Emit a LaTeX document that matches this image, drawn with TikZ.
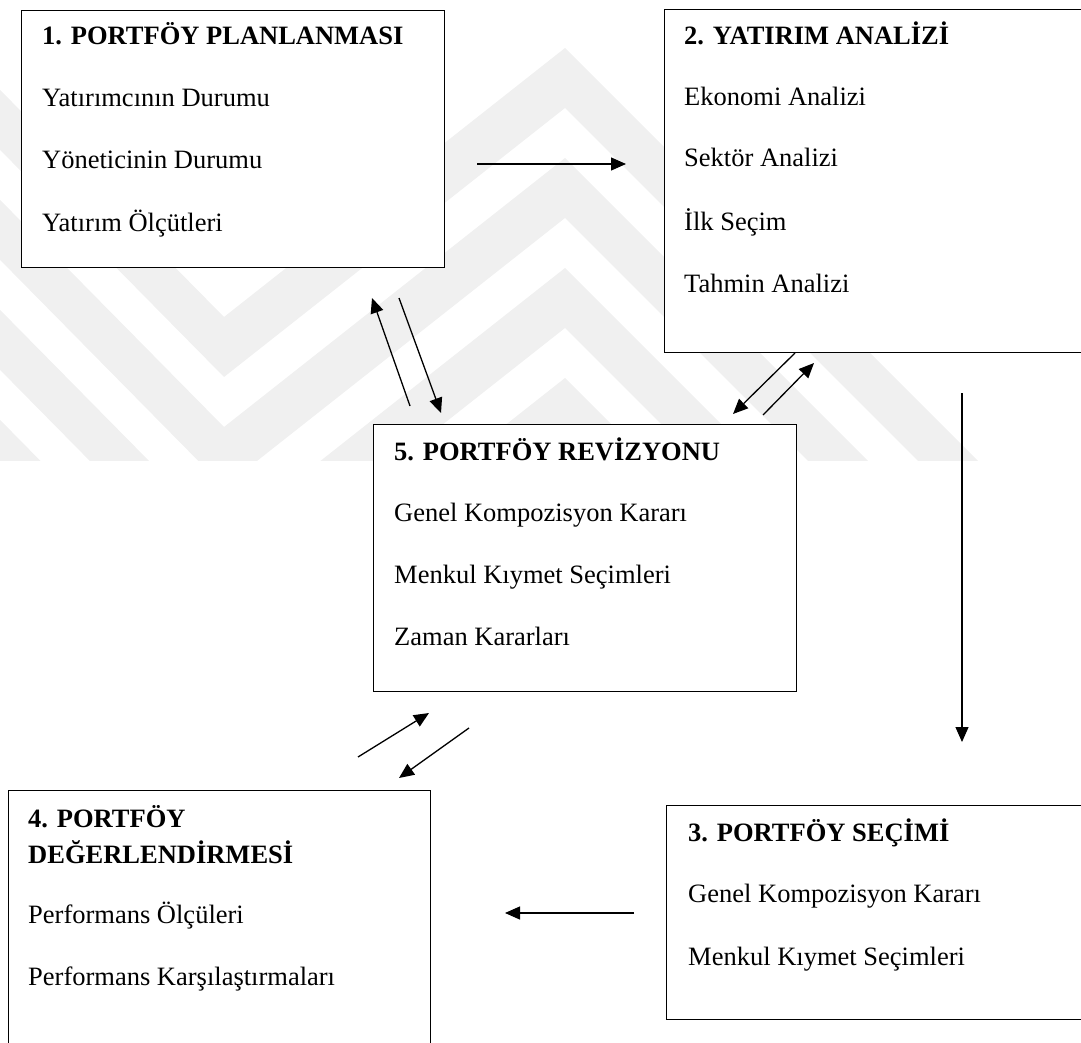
\documentclass[tikz,border=0pt]{standalone}
\usepackage{fontspec}
\setmainfont{Liberation Serif}
\usetikzlibrary{arrows.meta}
\begin{document}
\begin{tikzpicture}[x=1pt,y=-1pt,
  panel/.style={draw=black, line width=1.4pt, fill=white, inner sep=0pt, anchor=north west},
  lbl/.style={anchor=base west, inner sep=0pt, font=\fontsize{26.5}{31}\selectfont},
  head/.style={anchor=base west, inner sep=0pt, font=\fontsize{26.5}{31}\selectfont\bfseries},
  flow/.style={line width=1.3pt, -{Triangle[length=15pt,width=13pt]}},
  mark band/.style={fill=black!6, draw=none}
]
\useasboundingbox (0,0) rectangle (1081,1043);

% faint zig-zag background stripes
\begin{scope}
  \clip (0,0) rectangle (1081,460);
  \foreach \o in {0,110,220,330,440} {
    \fill[mark band]
      (-200,-113+\o) -- (224,317+\o) -- (565,48+\o) -- (1300,783+\o)
      -- (1300,843+\o) -- (565,108+\o) -- (224,377+\o) -- (-200,-53+\o) -- cycle;
  }
\end{scope}

% the five stages of the portfolio management process
\node[panel, minimum width=423pt, minimum height=257pt] (plan)   at (20.7,10)  {};
\node[panel, minimum width=426pt, minimum height=343pt] (anal)   at (664,9)    {};
\node[panel, minimum width=423pt, minimum height=267pt] (rev)    at (373,424)  {};
\node[panel, minimum width=422pt, minimum height=260pt] (eval)   at (8,790)    {};
\node[panel, minimum width=424pt, minimum height=214pt] (sel)    at (666,805)  {};

% 1. planning
\node[head] (plan-t)  at (42,45)  {1. PORTFÖY PLANLANMASI};
\node[lbl]  (plan-a)  at (42,107) {Yatırımcının Durumu};
\node[lbl]  (plan-b)  at (42,169) {Yöneticinin Durumu};
\node[lbl]  (plan-c)  at (42,231) {Yatırım Ölçütleri};

% 2. analysis
\node[head] (anal-t)  at (684,45)  {2. YATIRIM ANALİZİ};
\node[lbl]  (anal-a)  at (684,106) {Ekonomi Analizi};
\node[lbl]  (anal-b)  at (684,167) {Sektör Analizi};
\node[lbl]  (anal-c)  at (684,230) {İlk Seçim};
\node[lbl]  (anal-d)  at (684,292) {Tahmin Analizi};

% 5. revision
\node[head] (rev-t)   at (394,460) {5. PORTFÖY REVİZYONU};
\node[lbl]  (rev-a)   at (394,521) {Genel Kompozisyon Kararı};
\node[lbl]  (rev-b)   at (394,583) {Menkul Kıymet Seçimleri};
\node[lbl]  (rev-c)   at (394,645) {Zaman Kararları};

% 4. evaluation
\node[head] (eval-t1) at (28,827) {4. PORTFÖY};
\node[head] (eval-t2) at (28,863) {DEĞERLENDİRMESİ};
\node[lbl]  (eval-a)  at (28,923) {Performans Ölçüleri};
\node[lbl]  (eval-b)  at (28,985) {Performans Karşılaştırmaları};

% 3. selection
\node[head] (sel-t)   at (688,841) {3. PORTFÖY SEÇİMİ};
\node[lbl]  (sel-a)   at (688,902) {Genel Kompozisyon Kararı};
\node[lbl]  (sel-b)   at (688,965) {Menkul Kıymet Seçimleri};

% free-standing arrow ends
\coordinate (pa1) at (477,164); \coordinate (pa2) at (626,164);
\coordinate (pr1) at (410,406); \coordinate (pr2) at (372,298);
\coordinate (rp1) at (399,298); \coordinate (rp2) at (441,413);
\coordinate (ar1) at (795,353); \coordinate (ar2) at (733,414);
\coordinate (ra1) at (763,415); \coordinate (ra2) at (814,363);
\coordinate (as1) at (962,393); \coordinate (as2) at (962,742);
\coordinate (se1) at (634,913); \coordinate (se2) at (505,913);
\coordinate (er1) at (358,757); \coordinate (er2) at (429,713);
\coordinate (re1) at (469,728); \coordinate (re2) at (399,778);

\draw[flow] (pa1) -- (pa2);
\draw[flow] (pr1) -- (pr2);
\draw[flow] (rp1) -- (rp2);
\draw[flow] (ar1) -- (ar2);
\draw[flow] (ra1) -- (ra2);
\draw[flow] (as1) -- (as2);
\draw[flow] (se1) -- (se2);
\draw[flow] (er1) -- (er2);
\draw[flow] (re1) -- (re2);
\end{tikzpicture}
\end{document}
